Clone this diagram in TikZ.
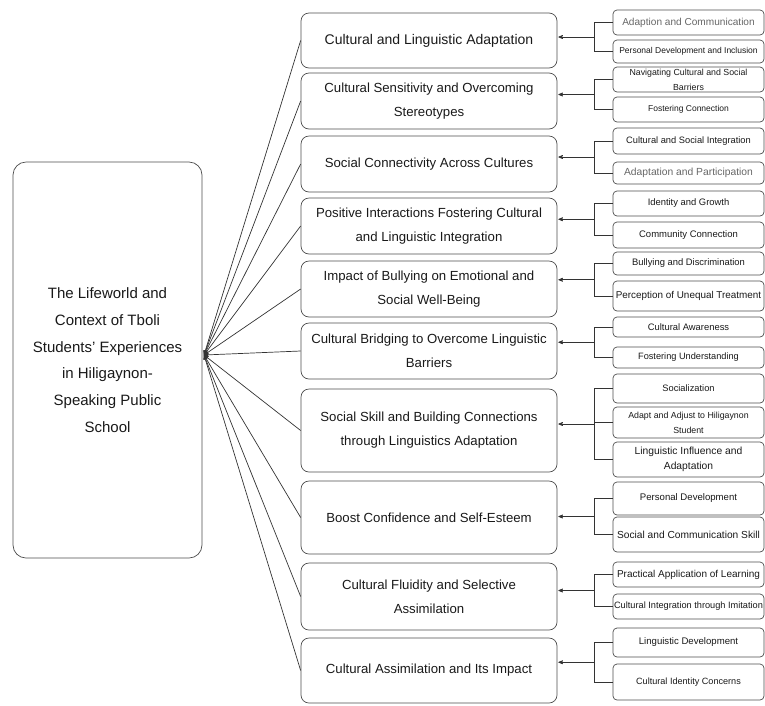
\documentclass[tikz,border=0pt]{standalone}
\usepackage{fontspec}
\setmainfont{Liberation Sans}
\usetikzlibrary{%
  arrows,%
  positioning,%
  calc%
}

\begin{document}
\begin{tikzpicture}
  [
  x=1pt, y=-1pt, line width=0.7pt, draw=black!80, >=stealth',
  mainbox/.style={rectangle, rounded corners=13pt, draw=black!70, minimum width=189pt, minimum height=396pt, inner sep=0pt, align=center, text=black!90, font=\fontsize{15pt}{26.7pt}\selectfont},
  themebox/.style={rectangle, rounded corners=8pt, draw=black!70, minimum width=256pt, inner sep=0pt, align=center, text=black!90, font=\fontsize{13.2pt}{24pt}\selectfont},
  leafbox/.style={rectangle, rounded corners=4pt, draw=black!70, minimum width=151pt, inner sep=0pt, align=center}
  ]

  \useasboundingbox (0,0) rectangle (765,705);

  \node[mainbox] (life) at (107.5,360) {The Lifeworld and\\Context of Tboli\\Students’ Experiences\\in Hiligaynon-\\Speaking Public\\School};
  \coordinate (hub) at (204,355);

  % themes, fanned into the main box
  \foreach \n/\y/\h/\t in {
    1/40.5/55/{\fontsize{14pt}{24pt}\selectfont Cultural and Linguistic Adaptation},
    2/101/56/{Cultural Sensitivity and Overcoming\\Stereotypes},
    3/164/56/{Social Connectivity Across Cultures},
    4/226/56/{Positive Interactions Fostering Cultural\\and Linguistic Integration},
    5/289/56/{Impact of Bullying on Emotional and\\Social Well-Being},
    6/351/56/{Cultural Bridging to Overcome Linguistic\\Barriers},
    7/430.5/83/{Social Skill and Building Connections\\through Linguistics Adaptation},
    8/517.5/73/{Boost Confidence and Self-Esteem},
    9/596.5/67/{Cultural Fluidity and Selective\\Assimilation},
    10/670.5/65/{Cultural Assimilation and Its Impact}} {
    \node[themebox, minimum height=\h pt] (t\n) at (429,\y) {\t};
    \draw[->] (t\n.west) -- (hub);
  }

  % sub-themes
  \foreach \n/\y/\h/\s/\c/\t in {
    a1/22.5/25/10.1/60/{Adaption and Communication},
    a2/51.5/23/8.5/90/{Personal Development and Inclusion},
    a3/79.5/25/8.8/90/{Navigating Cultural and Social\\Barriers},
    a4/109.5/25/8.5/90/{Fostering Connection},
    b1/141/26/9.3/90/{Cultural and Social Integration},
    b2/173/22/10.3/60/{Adaptation and Participation},
    c1/203.5/25/9.4/90/{Identity and Growth},
    c2/235/26/9.5/90/{Community Connection},
    d1/263.5/23/9.4/90/{Bullying and Discrimination},
    d2/296/30/9.9/90/{Perception of Unequal Treatment},
    e1/327/20/9.4/90/{Cultural Awareness},
    e2/357.5/21/9.2/90/{Fostering Understanding},
    f1/388.5/29/9.3/90/{Socialization},
    f2/422.5/31/8.8/90/{Adapt and Adjust to Hiligaynon\\Student},
    f3/459.5/35/10.3/90/{Linguistic Influence and\\Adaptation},
    g1/498.5/33/9.6/90/{Personal Development},
    g2/534.5/35/10.2/90/{Social and Communication Skill},
    h1/574.5/25/10/90/{Practical Application of Learning},
    h2/606.5/25/9.2/90/{Cultural Integration through Imitation},
    i1/642.5/29/9.6/90/{Linguistic Development},
    i2/682/36/9.1/90/{Cultural Identity Concerns}} {
    \node[leafbox, minimum height=\h pt, text=black!\c, font=\fontsize{\s pt}{15pt}\selectfont] (\n) at (688.5,\y) {\t};
  }

  % brackets
  \foreach \p/\f/\l in {1/a1/a2, 2/a3/a4, 3/b1/b2, 4/c1/c2, 5/d1/d2, 6/e1/e2, 7/f1/f3, 8/g1/g2, 9/h1/h2, 10/i1/i2} {
    \draw (\f.west) -- ++(-18,0) |- (\l.west);
    \coordinate (j\p) at ($(\f.west)!.5!(\l.west)+(-18,0)$);
    \draw[->, shorten >=1pt] (j\p) -- (j\p -| t\p.east);
  }
  \draw (f2.west) -- ++(-18,0);
\end{tikzpicture}
\end{document}
